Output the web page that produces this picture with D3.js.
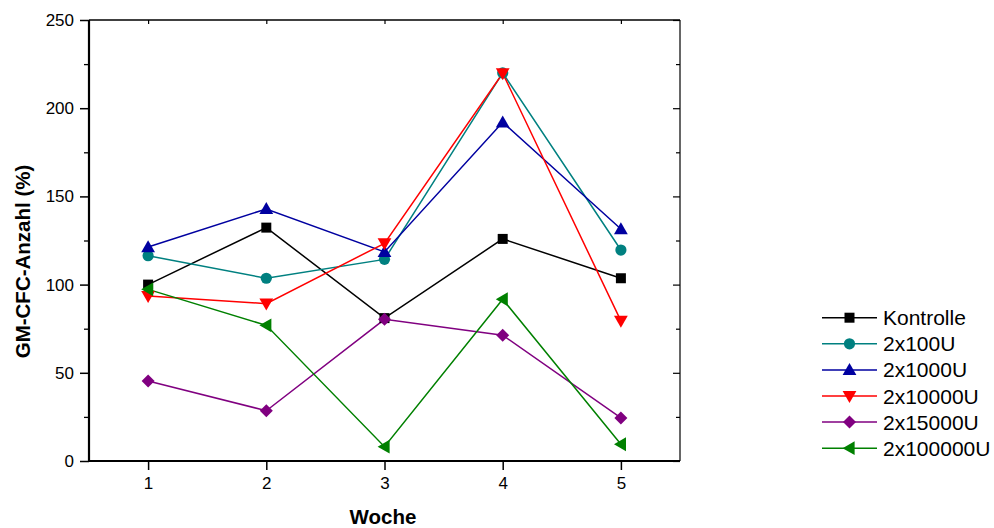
<!DOCTYPE html>
<html>
<head>
<meta charset="utf-8">
<script src="https://cdn.jsdelivr.net/npm/d3@7"></script>
<style>
  html, body { margin: 0; padding: 0; background: #fff; }
  svg { display: block; font-family: "Liberation Sans", Arial, sans-serif; }
</style>
</head>
<body>
<svg id="chart" width="994" height="528"></svg>
<script>
// Weeks on the x axis
const weeks = [1, 2, 3, 4, 5];
const xTicks = [1, 2, 3, 4, 5];
const yTicks = [0, 50, 100, 150, 200, 250];

// Series names and GM-CFC counts (%) per week
const seriesNames = ["Kontrolle", "2x100U", "2x1000U", "2x10000U", "2x15000U", "2x100000U"];
const kontrolle = [100, 132.3, 81, 125.9, 103.6];
const u100 = [116.4, 103.6, 114.3, 220, 119.6];
const u1000 = [121.3, 142.9, 118.5, 192, 131.5];
const u10000 = [93.5, 89.2, 123.4, 219.8, 79.4];
const u15000 = [45.4, 28.5, 80.3, 71.3, 24.4];
const u100000 = [97.3, 76.9, 8.1, 91.7, 9.5];

const colors = ["#000000", "#008080", "#0000a0", "#ff0000", "#800080", "#008000"];
const symbols = ["square", "circle", "triangleUp", "triangleDown", "diamond", "triangleLeft"];

const series = [kontrolle, u100, u1000, u10000, u15000, u100000].map((vals, i) => ({
  name: seriesNames[i], color: colors[i], symbol: symbols[i],
  points: weeks.map((w, j) => ({ w, v: vals[j] }))
}));

const svg = d3.select("#chart");
const pl = 89, pr = 680, pt = 20, pb = 461;
const FONT = "Liberation Sans, Arial, sans-serif";

const x = d3.scaleLinear().domain([0.5, 5.5]).range([pl, pr]);
const y = d3.scaleLinear().domain([0, 250]).range([pb, pt]);

// Marker path generator
function markerPath(type, s) {
  switch (type) {
    case "square": return `M${-s},${-s}H${s}V${s}H${-s}Z`;
    case "circle": return d3.symbol(d3.symbolCircle, Math.PI * s * s)();
    case "triangleUp": return `M0,${-s * 1.15}L${s * 1.15},${s * 0.85}L${-s * 1.15},${s * 0.85}Z`;
    case "triangleDown": return `M0,${s * 1.15}L${s * 1.15},${-s * 0.85}L${-s * 1.15},${-s * 0.85}Z`;
    case "diamond": return `M0,${-s * 1.3}L${s * 1.3},0L0,${s * 1.3}L${-s * 1.3},0Z`;
    case "triangleLeft": return `M${-s * 1.15},0L${s * 0.85},${-s * 1.15}L${s * 0.85},${s * 1.15}Z`;
  }
}
const markerSize = { square: 5, circle: 5.6, triangleUp: 6, triangleDown: 6, diamond: 5, triangleLeft: 6 };

// Frame: top and right edges
svg.append("line").attr("x1", pl).attr("x2", pr).attr("y1", pt).attr("y2", pt)
  .attr("stroke", "#000").attr("stroke-width", 1.5);
svg.append("line").attr("x1", pr).attr("x2", pr).attr("y1", pt).attr("y2", pb)
  .attr("stroke", "#333").attr("stroke-width", 1.5);

// Inward ticks on the top and right edges
svg.append("g").attr("transform", `translate(0,${pt})`)
  .call(d3.axisTop(x).tickValues(xTicks).tickSize(-4).tickFormat(""))
  .call(g => g.select(".domain").remove())
  .call(g => g.selectAll("line").attr("stroke-width", 1.2));

const yMinor = d3.range(25, 250, 50);
svg.append("g").attr("transform", `translate(${pr},0)`)
  .call(d3.axisRight(y).tickValues(yTicks).tickSize(-7).tickFormat(""))
  .call(g => g.select(".domain").remove())
  .call(g => g.selectAll("line").attr("stroke-width", 1.2));
svg.append("g").attr("transform", `translate(${pr},0)`)
  .call(d3.axisRight(y).tickValues(yMinor).tickSize(-4).tickFormat(""))
  .call(g => g.select(".domain").remove())
  .call(g => g.selectAll("line").attr("stroke-width", 1.2));

// Left axis with major and minor ticks
svg.append("g").attr("transform", `translate(${pl},0)`)
  .call(d3.axisLeft(y).tickValues(yMinor).tickSize(5).tickFormat(""))
  .call(g => g.select(".domain").remove())
  .call(g => g.selectAll("line").attr("stroke-width", 1.3));
const yg = svg.append("g").attr("transform", `translate(${pl},0)`)
  .call(d3.axisLeft(y).tickValues(yTicks).tickSize(9).tickPadding(6).tickFormat(d3.format("d")));
yg.attr("font-size", 17).attr("font-family", FONT);
yg.select(".domain").attr("stroke-width", 2.2).attr("d", `M0,${pt}V${pb + 1}`);
yg.selectAll(".tick line").attr("stroke-width", 1.5);
yg.selectAll("text").attr("fill", "#000");

// Bottom axis
const xg = svg.append("g").attr("transform", `translate(0,${pb})`)
  .call(d3.axisBottom(x).tickValues(xTicks).tickSize(9).tickPadding(7).tickFormat(d3.format("d")));
xg.attr("font-size", 17).attr("font-family", FONT);
xg.select(".domain").attr("stroke-width", 2.2).attr("d", `M${pl - 1},0H${pr}`);
xg.selectAll(".tick line").attr("stroke-width", 1.5);
xg.selectAll("text").attr("fill", "#000");

// Axis titles
svg.append("text").attr("x", 383).attr("y", 524)
  .attr("text-anchor", "middle").attr("font-weight", "bold").attr("font-size", 20.5)
  .attr("font-family", FONT).text("Woche");
svg.append("text").attr("transform", `translate(30,261.5) rotate(-90)`)
  .attr("text-anchor", "middle").attr("font-weight", "bold").attr("font-size", 20.5)
  .attr("font-family", FONT).text("GM-CFC-Anzahl (%)");

// Series lines and markers
const line = d3.line().x(d => x(d.w)).y(d => y(d.v));
const plot = svg.append("g");
series.forEach(s => {
  plot.append("path").datum(s.points).attr("d", line)
    .attr("fill", "none").attr("stroke", s.color).attr("stroke-width", 1.5);
});
series.forEach(s => {
  plot.selectAll(null).data(s.points).enter().append("path")
    .attr("transform", d => `translate(${x(d.w)},${y(d.v)})`)
    .attr("d", markerPath(s.symbol, markerSize[s.symbol]))
    .attr("fill", s.color);
});

// Legend
const legend = svg.append("g");
series.forEach((s, i) => {
  const ly = 317.7 + i * 26.1;
  legend.append("line").attr("x1", 822).attr("x2", 877).attr("y1", ly).attr("y2", ly)
    .attr("stroke", s.color).attr("stroke-width", 1.5);
  legend.append("path").attr("transform", `translate(849.5,${ly})`)
    .attr("d", markerPath(s.symbol, markerSize[s.symbol])).attr("fill", s.color);
  legend.append("text").attr("x", 883).attr("y", ly).attr("dy", "0.36em")
    .attr("font-size", 21).attr("font-family", FONT).attr("fill", "#000").text(s.name);
});
</script>
</body>
</html>
